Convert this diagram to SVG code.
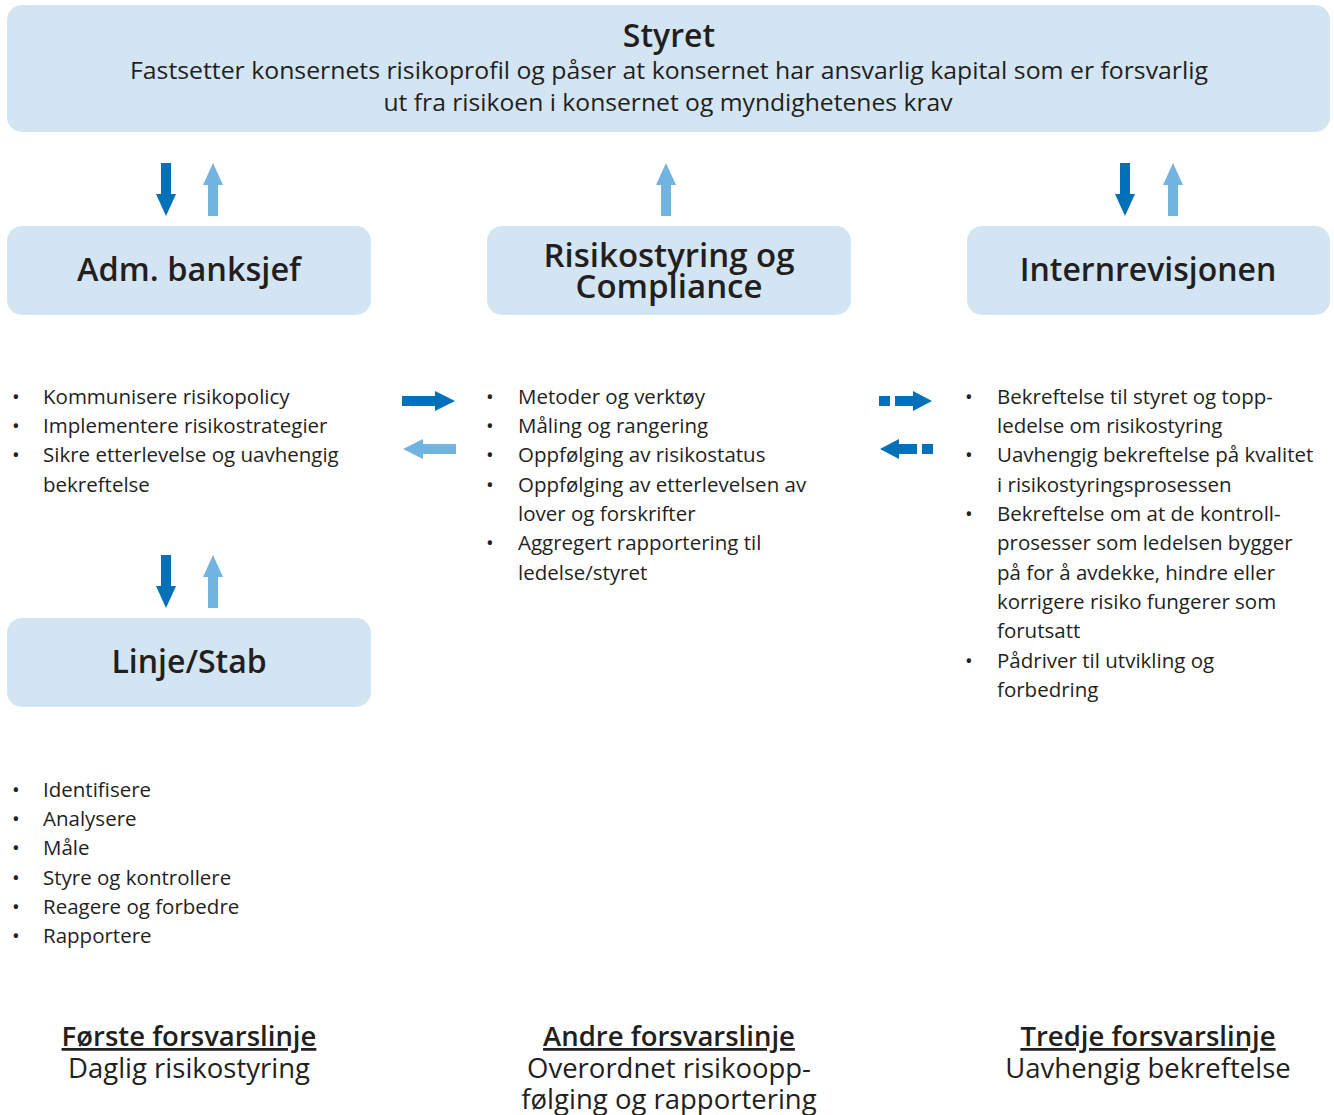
<svg xmlns="http://www.w3.org/2000/svg" width="1334" height="1115" viewBox="0 0 1334 1115">
<defs>
<style>
.box{fill:#d3e5f3}
.t{font-family:"Open Sans","Noto Sans","DejaVu Sans",sans-serif;fill:#231f20}
.h{font-weight:600;text-anchor:middle}
.b{font-size:20.5px}
.c{text-anchor:middle}
.dk{fill:#0070b8}
.lt{fill:#72b4e0}
</style>
<path id="av" d="M-5,0 H5 V31 H10 L0,53 L-10,31 H-5 Z"/>
<path id="ah" d="M0,-5 H33 V-10 L53,0 L33,10 V5 H0 Z"/>
</defs>

<g id="styret">
<rect class="box" x="7" y="5" width="1323" height="127" rx="15"/>
<text class="t h" x="669" y="47" font-size="32">Styret</text>
<text class="t c" x="669" y="79" font-size="24.5" textLength="1078" lengthAdjust="spacingAndGlyphs">Fastsetter konsernets risikoprofil og påser at konsernet har ansvarlig kapital som er forsvarlig</text>
<text class="t c" x="668" y="111" font-size="24.5" textLength="569" lengthAdjust="spacingAndGlyphs">ut fra risikoen i konsernet og myndighetenes krav</text>
</g>

<g id="adm">
<rect class="box" x="7" y="226" width="364" height="89" rx="15"/>
<text class="t h" x="189" y="281" font-size="32.5">Adm. banksjef</text>
</g>

<g id="risiko">
<rect class="box" x="487" y="226" width="364" height="89" rx="15"/>
<text class="t h" x="669" y="267" font-size="33">Risikostyring og</text>
<text class="t h" x="669" y="298" font-size="33">Compliance</text>
</g>

<g id="intern">
<rect class="box" x="967" y="226" width="363" height="89" rx="15"/>
<text class="t h" x="1148" y="281" font-size="32">Internrevisjonen</text>
</g>

<g id="linje">
<rect class="box" x="7" y="618" width="364" height="89" rx="15"/>
<text class="t h" x="189" y="673" font-size="32">Linje/Stab</text>
</g>

<g id="connectors">
<use href="#av" class="dk" x="166" y="163"/>
<use href="#av" class="lt" transform="translate(213,216) scale(1,-1)"/>
<use href="#av" class="lt" transform="translate(666,216) scale(1,-1)"/>
<use href="#av" class="dk" x="1125" y="163"/>
<use href="#av" class="lt" transform="translate(1173,216) scale(1,-1)"/>
<use href="#av" class="dk" x="166" y="555"/>
<use href="#av" class="lt" transform="translate(213,608) scale(1,-1)"/>
<use href="#ah" class="dk" x="402" y="401"/>
<use href="#ah" class="lt" transform="translate(456,449) scale(-1,1)"/>
<rect class="dk" x="879" y="396" width="11" height="10"/>
<path class="dk" d="M895,396 H913 V391 L932,401 L913,411 V406 H895 Z"/>
<rect class="dk" x="922" y="444" width="11" height="10"/>
<path class="dk" d="M917,444 H899 V439 L880,449 L899,459 V454 H917 Z"/>
</g>

<g id="list-adm" class="t b">
<text x="12" y="404">•</text><text x="43" y="404">Kommunisere risikopolicy</text>
<text x="12" y="433">•</text><text x="43" y="433">Implementere risikostrategier</text>
<text x="12" y="462">•</text><text x="43" y="462">Sikre etterlevelse og uavhengig</text>
<text x="43" y="492">bekreftelse</text>
</g>

<g id="list-linje" class="t b">
<text x="12" y="797">•</text><text x="43" y="797">Identifisere</text>
<text x="12" y="826">•</text><text x="43" y="826">Analysere</text>
<text x="12" y="855">•</text><text x="43" y="855">Måle</text>
<text x="12" y="885">•</text><text x="43" y="885">Styre og kontrollere</text>
<text x="12" y="914">•</text><text x="43" y="914">Reagere og forbedre</text>
<text x="12" y="943">•</text><text x="43" y="943">Rapportere</text>
</g>

<g id="list-risiko" class="t b">
<text x="486" y="404">•</text><text x="518" y="404">Metoder og verktøy</text>
<text x="486" y="433">•</text><text x="518" y="433">Måling og rangering</text>
<text x="486" y="462">•</text><text x="518" y="462">Oppfølging av risikostatus</text>
<text x="486" y="492">•</text><text x="518" y="492">Oppfølging av etterlevelsen av</text>
<text x="518" y="521">lover og forskrifter</text>
<text x="486" y="550">•</text><text x="518" y="550">Aggregert rapportering til</text>
<text x="518" y="580">ledelse/styret</text>
</g>

<g id="list-intern" class="t b">
<text x="965" y="404">•</text><text x="997" y="404">Bekreftelse til styret og topp-</text>
<text x="997" y="433">ledelse om risikostyring</text>
<text x="965" y="462">•</text><text x="997" y="462">Uavhengig bekreftelse på kvalitet</text>
<text x="997" y="492">i risikostyringsprosessen</text>
<text x="965" y="521">•</text><text x="997" y="521">Bekreftelse om at de kontroll-</text>
<text x="997" y="550">prosesser som ledelsen bygger</text>
<text x="997" y="580">på for å avdekke, hindre eller</text>
<text x="997" y="609">korrigere risiko fungerer som</text>
<text x="997" y="638">forutsatt</text>
<text x="965" y="668">•</text><text x="997" y="668">Pådriver til utvikling og</text>
<text x="997" y="697">forbedring</text>
</g>

<g id="footer">
<text class="t h" x="189" y="1046" font-size="27.5" text-decoration="underline">Første forsvarslinje</text>
<text class="t c" x="189" y="1078" font-size="27.5">Daglig risikostyring</text>
<text class="t h" x="669" y="1046" font-size="27.5" text-decoration="underline">Andre forsvarslinje</text>
<text class="t c" x="669" y="1078" font-size="27.5">Overordnet risikoopp-</text>
<text class="t c" x="669" y="1109" font-size="27.5">følging og rapportering</text>
<text class="t h" x="1148" y="1046" font-size="27.5" text-decoration="underline">Tredje forsvarslinje</text>
<text class="t c" x="1148" y="1078" font-size="27.5">Uavhengig bekreftelse</text>
</g>
</svg>
